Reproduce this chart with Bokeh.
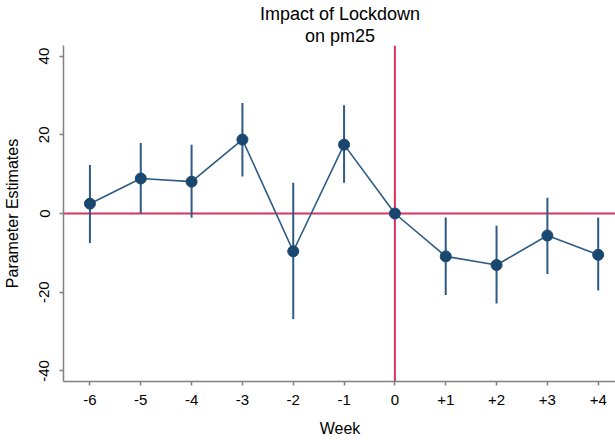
from bokeh.plotting import figure
from bokeh.models import Span, Title, FixedTicker, Range1d, ColumnDataSource
from bokeh.embed import file_html
from bokeh.resources import INLINE

# ---- data ----
weeks = [-6, -5, -4, -3, -2, -1, 0, 1, 2, 3, 4]
week_labels = ["-6", "-5", "-4", "-3", "-2", "-1", "0", "+1", "+2", "+3", "+4"]
estimates = [2.5, 8.9, 8.1, 18.8, -9.6, 17.5, 0.0, -10.9, -13.1, -5.6, -10.5]
ci_low = [-7.5, 0.0, -1.1, 9.4, -26.8, 7.8, None, -20.7, -22.9, -15.4, -19.6]
ci_high = [12.3, 17.9, 17.5, 28.1, 7.8, 27.5, None, -1.0, -3.1, 4.0, -1.0]
y_ticks = [-40, -20, 0, 20, 40]
y_tick_labels = ["-40", "-20", "0", "20", "40"]
title_lines = ["Impact of Lockdown", "on pm25"]

FONT = "Liberation Sans"
NAVY = "#1a476f"
LINE = "#2d5b86"
RED = "#d6345f"

p = figure(
    width=615, height=440,
    frame_width=553, frame_height=336,
    output_backend="svg", toolbar_location=None,
    x_range=Range1d(-6.52, 4.36), y_range=Range1d(-42.7, 42.7),
    min_border_left=62, min_border_right=0, min_border_top=45, min_border_bottom=59,
)
p.outline_line_color = None
p.grid.visible = False
p.background_fill_color = "white"
p.border_fill_color = "white"

# titles (first added sits closest to plot)
p.add_layout(Title(text=title_lines[1], align="center", text_font=FONT, text_font_size="18px",
                   text_font_style="normal", text_color="black", text_line_height=0.9,
                   standoff=0), "above")
p.add_layout(Title(text=title_lines[0], align="center", text_font=FONT, text_font_size="18px",
                   text_font_style="normal", text_color="black", text_line_height=0.9,
                   standoff=0), "above")

# reference lines
p.add_layout(Span(location=0, dimension="width", line_color=RED, line_width=2, level="underlay"))
p.add_layout(Span(location=0, dimension="height", line_color=RED, line_width=2, level="underlay"))

# CI bars
ci_x = [w for w, lo in zip(weeks, ci_low) if lo is not None]
ci_lo = [lo for lo in ci_low if lo is not None]
ci_hi = [hi for hi in ci_high if hi is not None]
p.segment(x0=ci_x, y0=ci_lo, x1=ci_x, y1=ci_hi, line_color=LINE, line_width=2)

src = ColumnDataSource(dict(x=weeks, y=estimates))
p.line("x", "y", source=src, line_color=LINE, line_width=1.6)
p.scatter("x", "y", source=src, size=11, fill_color=NAVY, line_color=NAVY)

# axes
xa = p.xaxis[0]
xa.ticker = FixedTicker(ticks=weeks)
xa.major_label_overrides = {w: l for w, l in zip(weeks, week_labels)}
xa.axis_label = "Week"
ya = p.yaxis[0]
ya.ticker = FixedTicker(ticks=y_ticks)
ya.major_label_overrides = {t: l for t, l in zip(y_ticks, y_tick_labels)}
ya.axis_label = "Parameter Estimates"
ya.major_label_orientation = "parallel"

for ax in (xa, ya):
    ax.axis_line_color = "#808080"
    ax.axis_line_width = 1.5
    ax.major_tick_line_color = "#808080"
    ax.major_tick_line_width = 1.5
    ax.major_tick_out = 4
    ax.major_tick_in = 0
    ax.minor_tick_line_color = None
    ax.major_label_text_font = FONT
    ax.major_label_text_font_size = "15px"
    ax.major_label_text_color = "black"
    ax.axis_label_text_font = FONT
    ax.axis_label_text_font_size = "16px"
    ax.axis_label_text_font_style = "normal"
    ax.axis_label_text_color = "black"
xa.major_label_standoff = 9
xa.axis_label_standoff = 12
ya.major_label_standoff = 10
ya.axis_label_standoff = 16

open("out.html", "w").write(file_html(p, INLINE))
